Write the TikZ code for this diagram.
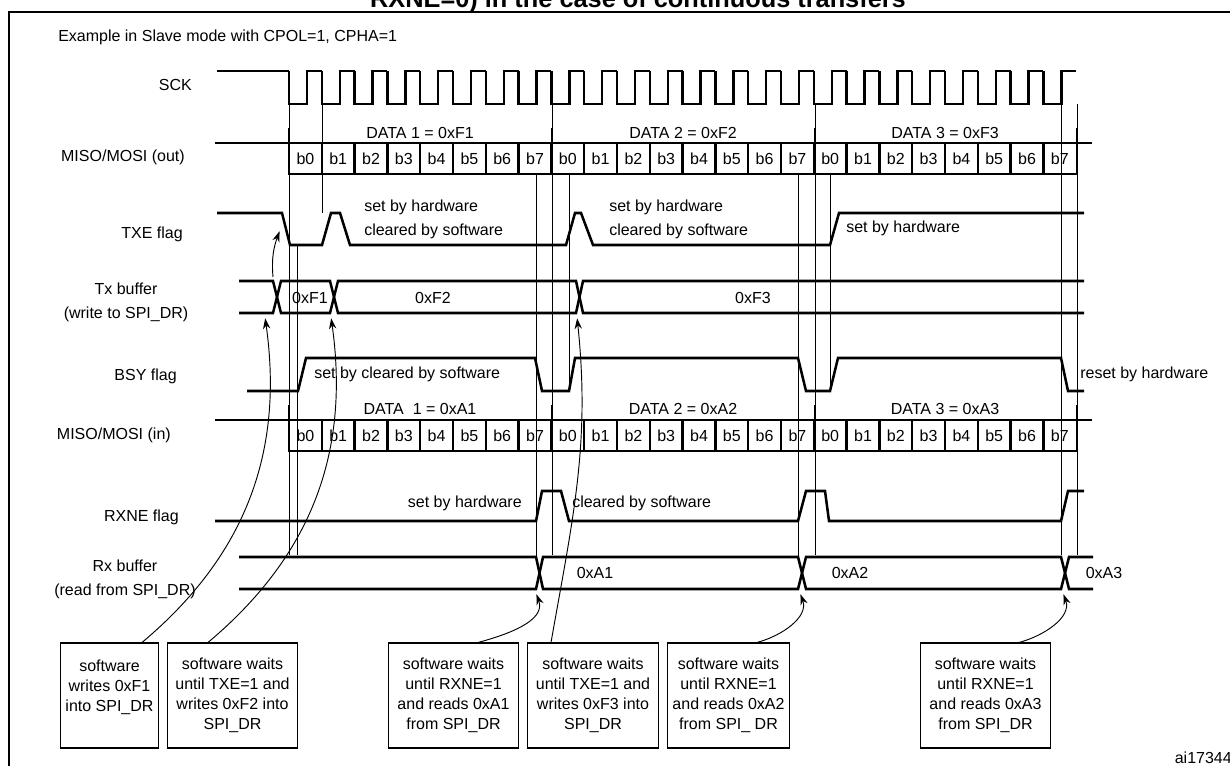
\documentclass[tikz,border=0pt]{standalone}
\usepackage{fontspec}
\setmainfont{Liberation Sans}
\usetikzlibrary{arrows.meta,calc}
\tikzset{
  wave/.style={line width=1.9pt,line join=miter},
  bus/.style={line width=1.9pt},
  guide/.style={line width=0.6pt},
  lbl/.style={font=\fontsize{12}{13}\selectfont,inner sep=0pt},
  note/.style={draw,line width=0.8pt,minimum height=78.75pt,align=center,
    font=\fontsize{12}{15}\selectfont,inner sep=1pt},
  hint/.style={-{Stealth[length=8pt,width=5.5pt]},line width=0.7pt,shorten >=1pt}
}
\begin{document}
\begin{tikzpicture}[x=0.75pt,y=-0.75pt]
  \useasboundingbox (0,0) rectangle (1230,766);
  \node[font=\bfseries\fontsize{19}{21}\selectfont,anchor=base] (title) at (638,8) {RXNE=0) in the case of continuous transfers};
  \draw[line width=1.5pt] (9,766) -- (9,12) -- (1230,12);
  \node[lbl,anchor=west] (mode) at (58,37) {Example in Slave mode with CPOL=1, CPHA=1};
  \node[lbl,anchor=south east] at (1232,764) {ai17344};

  % row names
  \node[lbl,anchor=east] (sck)   at (192,85)  {SCK};
  \node[lbl,anchor=east] (mout)  at (185,157) {MISO/MOSI (out)};
  \node[lbl,anchor=east] (txe)   at (183,234) {TXE flag};
  \node[lbl,align=center] (txb)  at (126,302) {Tx buffer\\[5pt](write to SPI\_DR)};
  \node[lbl,anchor=east] (bsy)   at (177,376) {BSY flag};
  \node[lbl,anchor=east] (min)   at (171,435) {MISO/MOSI (in)};
  \node[lbl,anchor=east] (rxne)  at (179,517) {RXNE flag};
  \node[lbl,align=center] (rxb)  at (125,579) {Rx buffer\\[5pt](read from SPI\_DR)};

  % clock
  \draw[wave] (217,71) -- (289,71);
  \foreach \k in {0,...,23}
    \draw[wave] ({289+\k*32.8},71) -- ({289+\k*32.8},104) -- ({307+\k*32.8},104)
      -- ({307+\k*32.8},71) -- ({321.8+\k*32.8},71);

  % data buses
  \foreach \y in {143,420} {
    \draw[bus] (215,\y) -- (1092,\y);
    \draw[bus] (289,\y) rectangle (1077,\y+31);
    \foreach \b in {1,...,23}
      \draw[bus] ({289+\b*32.8},\y) -- ({289+\b*32.8},\y+31);
    \foreach \b in {0,...,23} {
      \pgfmathtruncatemacro\bit{mod(\b,8)}
      \node[lbl] at ({305.4+\b*32.8},\y+16) {b\bit};
    }
    \foreach \t in {289,552,815,1077}
      \draw[bus] (\t,\y-15) -- (\t,\y);
  }
  \node[lbl] (d1) at (420,133) {DATA 1 = 0xF1};
  \node[lbl] (d2) at (683,133) {DATA 2 = 0xF2};
  \node[lbl] (d3) at (945,133) {DATA 3 = 0xF3};
  \node[lbl] (a1) at (420,409) {DATA\ \ 1 = 0xA1};
  \node[lbl] (a2) at (683,409) {DATA 2 = 0xA2};
  \node[lbl] (a3) at (945,409) {DATA 3 = 0xA3};

  % TXE flag
  \draw[wave] (217,213) -- (282,213) -- (290,245) -- (322,245) -- (331,213) -- (340,213)
    -- (350,245) -- (566,245) -- (575,213) -- (581,213) -- (593,245) -- (830,245)
    -- (839,213) -- (1084,213);
  \node[lbl,align=left,anchor=north west] at (364,200) {set by hardware\\[5pt]cleared by software};
  \node[lbl,align=left,anchor=north west] at (609,200) {set by hardware\\[5pt]cleared by software};
  \node[lbl,anchor=west] at (846,228) {set by hardware};

  % Tx buffer
  \draw[bus] (239,281) -- (273,281) -- (281,313) -- (330,313) -- (338,281) -- (576,281)
    -- (583,313) -- (1084,313);
  \draw[bus] (239,313) -- (273,313) -- (281,281) -- (330,281) -- (338,313) -- (576,313)
    -- (583,281) -- (1084,281);
  \node[lbl] at (310,298) {0xF1};
  \node[lbl] at (433,298) {0xF2};
  \node[lbl] at (753,298) {0xF3};

  % BSY flag
  \draw[wave] (247,391) -- (298,391) -- (306,358) -- (535,358) -- (542,391) -- (569,391)
    -- (575,358) -- (798,358) -- (806,391) -- (830,391) -- (838,358) -- (1061,358)
    -- (1068,391) -- (1084,391);
  \node[lbl,anchor=west] at (314,374) {set by cleared by software};
  \node[lbl,anchor=west] at (1080,374) {reset by hardware};

  % RXNE flag
  \draw[wave] (215,521) -- (536,521) -- (542,491) -- (561,491) -- (569,521) -- (798,521)
    -- (806,491) -- (825,491) -- (829,521) -- (1061,521) -- (1068,491) -- (1084,491);
  \node[lbl,anchor=east] at (522,503) {set by hardware};
  \node[lbl,anchor=west] at (572,503) {cleared by software};

  % Rx buffer
  \draw[bus] (239,557) -- (536,557) -- (543,589) -- (798,589) -- (806,557) -- (1061,557)
    -- (1069,589) -- (1093,589);
  \draw[bus] (239,589) -- (536,589) -- (543,557) -- (798,557) -- (806,589) -- (1061,589)
    -- (1069,557) -- (1093,557);
  \node[lbl] at (595,573) {0xA1};
  \node[lbl] at (850,573) {0xA2};
  \node[lbl] at (1104,573) {0xA3};

  % guides
  \foreach \x/\ya/\yb in {289/104/555,297/245/555,322/104/213,536/174/557,552/104/555,
      569/174/391,798/174/557,815/104/555,830/174/391,1061/104/555,1077/104/555}
    \draw[guide] (\x,\ya) -- (\x,\yb);

  % software steps
  \node[note,minimum width=74pt]  (sw1) at (109.5,695.5) {software\\writes 0xF1\\into SPI\_DR\\~};
  \node[note,minimum width=98pt]  (sw2) at (232.5,695.5) {software waits\\until TXE=1 and\\writes 0xF2 into\\SPI\_DR};
  \node[note,minimum width=98pt]  (sw3) at (453.5,695.5) {software waits\\until RXNE=1\\and reads 0xA1\\from SPI\_DR};
  \node[note,minimum width=98pt]  (sw4) at (593,695.5) {software waits\\until TXE=1 and\\writes 0xF3 into\\SPI\_DR};
  \node[note,minimum width=92pt]  (sw5) at (728.5,695.5) {software waits\\until RXNE=1\\and reads 0xA2\\from SPI\_ DR};
  \node[note,minimum width=98pt]  (sw6) at (985.5,695.5) {software waits\\until RXNE=1\\and reads 0xA3\\from SPI\_DR};

  \coordinate (txw1) at (265,317);
  \coordinate (txw2) at (331,317);
  \coordinate (txw3) at (577,317);
  \coordinate (rxr1) at (536,593);
  \coordinate (rxr2) at (800,593);
  \coordinate (rxr3) at (1063,593);
  \coordinate (txs)  at (273,277);
  \coordinate (txef) at (280,230);

  \draw[hint] ($(sw1.north)+(32.5,0)$) to[out=40,in=-82] (txw1);
  \draw[hint] ($(sw2.north)+(-24.5,0)$) to[out=40,in=-82] (txw2);
  \draw[hint] ($(sw3.north)+(24.5,0)$) to[out=15,in=-70] (rxr1);
  \draw[hint] ($(sw4.north)+(-42,0)$) to[out=80,in=-84] (txw3);
  \draw[hint] ($(sw5.north)+(28.5,0)$) to[out=15,in=-70] (rxr2);
  \draw[hint] ($(sw6.north)+(33.5,0)$) to[out=15,in=-70] (rxr3);
  \draw[hint] (txs) to[out=95,in=-110] (txef);
\end{tikzpicture}
\end{document}
